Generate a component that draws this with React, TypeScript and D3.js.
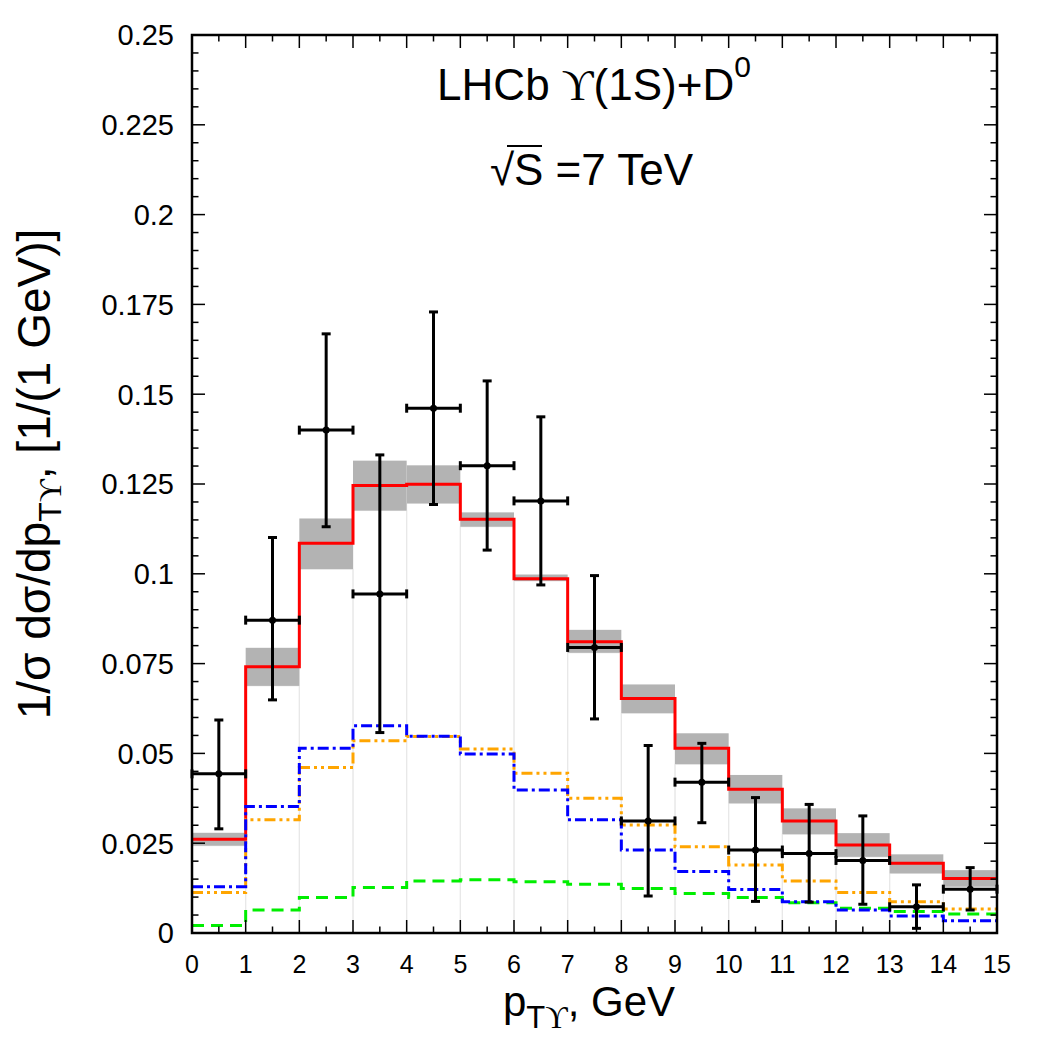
import React from "react";
import * as d3 from "d3";

// bin lower edges (GeV) and bin upper edges
const binLow = [0, 1, 2, 3, 4, 5, 6, 7, 8, 9, 10, 11, 12, 13, 14];
const binHigh = [1, 2, 3, 4, 5, 6, 7, 8, 9, 10, 11, 12, 13, 14, 15];

// total theory (red) with uncertainty band (grey)
const theory = [0.0261, 0.0741, 0.1085, 0.1246, 0.1249, 0.1152, 0.0986, 0.0811, 0.0653, 0.0514, 0.0400, 0.0312, 0.0245, 0.0194, 0.0152];
const bandLo = [0.0243, 0.0688, 0.1013, 0.1176, 0.1196, 0.1131, 0.0980, 0.0780, 0.0612, 0.0470, 0.0361, 0.0275, 0.0212, 0.0166, 0.0129];
const bandHi = [0.0279, 0.0794, 0.1154, 0.1315, 0.1302, 0.1171, 0.0998, 0.0844, 0.0692, 0.0556, 0.0440, 0.0347, 0.0278, 0.0219, 0.0175];

// component curves
const blueSeries = [0.0129, 0.0352, 0.0514, 0.0577, 0.0548, 0.0498, 0.0398, 0.0315, 0.0231, 0.0171, 0.0121, 0.0087, 0.0064, 0.0047, 0.0034];
const orangeSeries = [0.0113, 0.0315, 0.0461, 0.0535, 0.0547, 0.0512, 0.0445, 0.0375, 0.0301, 0.0240, 0.0189, 0.0145, 0.0113, 0.0087, 0.0067];
const greenSeries = [0.0021, 0.0064, 0.0099, 0.0127, 0.0145, 0.0148, 0.0143, 0.0136, 0.0124, 0.0110, 0.0099, 0.0084, 0.0069, 0.0060, 0.0053];

// LHCb data
const dataX = [0.5, 1.5, 2.5, 3.5, 4.5, 5.5, 6.5, 7.5, 8.5, 9.5, 10.5, 11.5, 12.5, 13.5, 14.5];
const dataY = [0.0443, 0.0871, 0.1400, 0.0944, 0.1461, 0.1301, 0.1203, 0.0795, 0.0312, 0.0420, 0.0231, 0.0221, 0.0202, 0.0073, 0.0122];
const dataHi = [0.0593, 0.1101, 0.1668, 0.1331, 0.1729, 0.1537, 0.1437, 0.0995, 0.0522, 0.0528, 0.0377, 0.0358, 0.0326, 0.0134, 0.0182];
const dataLo = [0.0290, 0.0649, 0.1131, 0.0558, 0.1193, 0.1066, 0.0969, 0.0596, 0.0103, 0.0307, 0.0088, 0.0086, 0.0080, 0.0013, 0.0064];

// ticks
const yMajor = [0, 0.025, 0.05, 0.075, 0.1, 0.125, 0.15, 0.175, 0.2, 0.225, 0.25];
const yTickLabels = ["0", "0.025", "0.05", "0.075", "0.1", "0.125", "0.15", "0.175", "0.2", "0.225", "0.25"];
const xMajor = [0, 1, 2, 3, 4, 5, 6, 7, 8, 9, 10, 11, 12, 13, 14, 15];

const SANS = "'Liberation Sans', Arial, Helvetica, sans-serif";
const SERIF = "'Liberation Serif', 'DejaVu Serif', serif";

const L = 192, R = 997, T = 35, B = 933;

export default function App() {
  const x = d3.scaleLinear().domain([0, 15]).range([L, R]);
  const y = d3.scaleLinear().domain([0, 0.25]).range([B, T]);

  const stepLine = (vals: number[]) => {
    const pts: [number, number][] = vals.map((v, i) => [binLow[i], v]);
    pts.push([binHigh[vals.length - 1], vals[vals.length - 1]]);
    return d3.line<[number, number]>().x(d => x(d[0])).y(d => y(d[1])).curve(d3.curveStepAfter)(pts) || "";
  };

  const yMinor = d3.range(0, 0.2501, 0.005).filter(v => Math.abs(v / 0.025 - Math.round(v / 0.025)) > 1e-6);
  const xMinor = d3.range(0.5, 15, 1);

  const cap = 4.5;

  return (
    <svg width={1050} height={1050} style={{ position: "absolute", left: 0, top: 0, background: "#fff" }}>
      <rect x={0} y={0} width={1050} height={1050} fill="#fff" />
      {/* faint boxes for lower band */}
      {binLow.map((b, i) => (
        <rect key={"fb" + i} x={x(b)} y={y(bandLo[i])} width={x(binHigh[i]) - x(b)} height={y(0) - y(bandLo[i])}
          fill="none" stroke="#e8e8e8" strokeWidth={1} />
      ))}
      {/* grey uncertainty band */}
      {binLow.map((b, i) => (
        <rect key={"band" + i} x={x(b)} y={y(bandHi[i])} width={x(binHigh[i]) - x(b)} height={y(bandLo[i]) - y(bandHi[i])}
          fill="#b3b3b3" />
      ))}
      {/* theory curves */}
      <path d={stepLine(theory)} fill="none" stroke="#ff0000" strokeWidth={3} />
      <path d={stepLine(greenSeries)} fill="none" stroke="#00ee00" strokeWidth={3} strokeDasharray="12,7" />
      <path d={stepLine(orangeSeries)} fill="none" stroke="#ffa500" strokeWidth={3} strokeDasharray="11,4,3,4,3,4" />
      <path d={stepLine(blueSeries)} fill="none" stroke="#0000ff" strokeWidth={3} strokeDasharray="11,4,3,4" />

      {/* data points */}
      {dataX.map((dx, i) => {
        const cx = x(dx);
        const cy = y(dataY[i]);
        const x0 = x(binLow[i]);
        const x1 = x(binHigh[i]);
        const yh = y(dataHi[i]);
        const yl = y(dataLo[i]);
        return (
          <g key={"d" + i} stroke="#000" strokeWidth={3}>
            <line x1={cx} x2={cx} y1={yh} y2={yl} />
            <line x1={cx - cap} x2={cx + cap} y1={yh} y2={yh} />
            <line x1={cx - cap} x2={cx + cap} y1={yl} y2={yl} />
            <line x1={x0} x2={x1} y1={cy} y2={cy} />
            <line x1={x0} x2={x0} y1={cy - cap} y2={cy + cap} />
            <line x1={x1} x2={x1} y1={cy - cap} y2={cy + cap} />
            <circle cx={cx} cy={cy} r={3.5} fill="#000" stroke="none" />
          </g>
        );
      })}

      {/* ticks */}
      <g stroke="#000" strokeWidth={1.5}>
        {yMajor.map((v, i) => (
          <g key={"ym" + i}>
            <line x1={L} x2={L + 13} y1={y(v)} y2={y(v)} />
            <line x1={R} x2={R - 13} y1={y(v)} y2={y(v)} />
          </g>
        ))}
        {yMinor.map((v, i) => (
          <g key={"yn" + i}>
            <line x1={L} x2={L + 6.5} y1={y(v)} y2={y(v)} />
            <line x1={R} x2={R - 6.5} y1={y(v)} y2={y(v)} />
          </g>
        ))}
        {xMajor.map((v, i) => (
          <g key={"xm" + i}>
            <line x1={x(v)} x2={x(v)} y1={B} y2={B - 13} />
            <line x1={x(v)} x2={x(v)} y1={T} y2={T + 13} />
          </g>
        ))}
        {xMinor.map((v, i) => (
          <g key={"xn" + i}>
            <line x1={x(v)} x2={x(v)} y1={B} y2={B - 6.5} />
            <line x1={x(v)} x2={x(v)} y1={T} y2={T + 6.5} />
          </g>
        ))}
      </g>
      {/* frame */}
      <rect x={L} y={T} width={R - L} height={B - T} fill="none" stroke="#000" strokeWidth={2.5} />

      {/* tick labels */}
      <g fontFamily={SANS} fontSize={29} fill="#000">
        {yMajor.map((v, i) => (
          <text key={"yl" + i} x={174} y={y(v)} dy="0.36em" textAnchor="end">{yTickLabels[i]}</text>
        ))}
      </g>
      <g fontFamily={SANS} fontSize={25} fill="#000">
        {xMajor.map((v, i) => (
          <text key={"xl" + i} x={x(v)} y={973} textAnchor="middle">{String(v)}</text>
        ))}
      </g>

      {/* axis titles */}
      <text x={503} y={1016} fontFamily={SANS} fontSize={42} fill="#000">
        p
        <tspan fontSize={31} dy={12}>T</tspan>
        <tspan fontSize={31} fontFamily={SERIF}>ϒ</tspan>
        <tspan fontSize={42} dy={-12}>, GeV</tspan>
      </text>
      <text transform="translate(50,474) rotate(-90)" textAnchor="middle" fontFamily={SANS} fontSize={46} fill="#000">
        1/σ dσ/dp
        <tspan fontSize={32} dy={11}>T</tspan>
        <tspan fontSize={32} fontFamily={SERIF}>ϒ</tspan>
        <tspan fontSize={46} dy={-11}>, [1/(1 GeV)]</tspan>
      </text>

      {/* annotation */}
      <text x={594} y={100} textAnchor="middle" fontFamily={SANS} fontSize={44} fill="#000">
        LHCb <tspan fontFamily={SERIF}>ϒ</tspan>(1S)+D<tspan fontSize={30} dy={-23}>0</tspan>
      </text>
      <text x={490} y={185} fontFamily={SANS} fontSize={44} fill="#000">
        √<tspan x={514}>S</tspan><tspan> =7 TeV</tspan>
      </text>
      <line x1={507} x2={542} y1={146} y2={146} stroke="#000" strokeWidth={2} />
    </svg>
  );
}
